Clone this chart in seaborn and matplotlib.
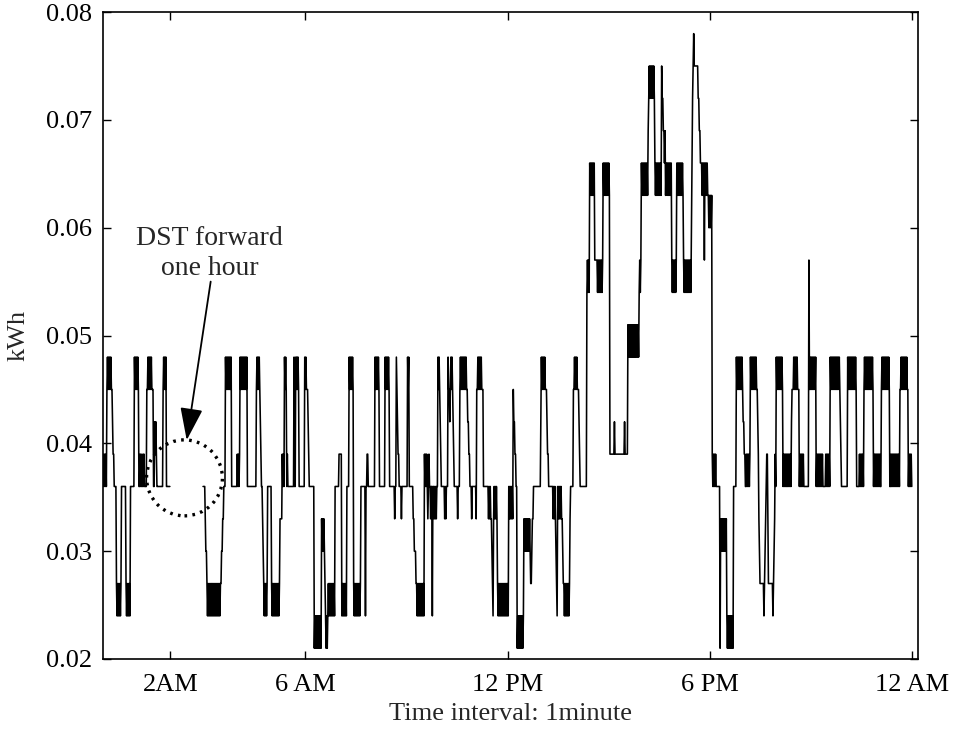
import numpy as np
import pandas as pd
import matplotlib
matplotlib.use("Agg")
import matplotlib.pyplot as plt
from matplotlib.patches import Ellipse
import seaborn as sns

# ---------------- data ----------------
# one character per minute; each code is a metered level (kWh), '-' = no data (DST gap)
level_codes = "0123456789abcdefghij"
level_values = [0.021, 0.024, 0.027, 0.030, 0.033, 0.036, 0.039, 0.042, 0.045, 0.048,
                0.051, 0.054, 0.057, 0.060, 0.063, 0.066, 0.069, 0.072, 0.075, 0.078]
# "c*n" = level c held for n minutes, other tokens are literal minute-by-minute codes
night = (
    "5656565 898989898 87665 5*3 212121212 5*8 21212121 5*7 98989898 "
    "55656556565555 889898989888 5576765 5*10 898989 5*7 -*58 "
    "5*4 4332 1212121212 1212121212 1212 23344555"
)
morning = (
    "98989898989 5*10 65656 9898989898989 5*16 898989 8765 5432 121212 5*7 "
    "212121212121212 4*4 65659898565 5*10 9559898985 5*9 989888 765 5*8 "
    "0101010101010 434343 210101 212121212121 5*6 566666 121212121 5*4 "
    "98989898 2121212121212 5*7 515 56655 5*10 98989898 5*10 98989898 5*9 4 "
    "55987665555455 5*7 59895 5*4 554433322 1212121212121 6565654565 545 515 "
    "545454 5598987655 5555454 5*3 98878989 876555 5554555 898989898989 "
    "887766555 455555554 889898989888 5*8 545454 43214 5454542 "
    "1212121212121212121 54545454 8776655 010101010101 4343434343432 234455 5*11"
)
afternoon = (
    "7989898988 876655 5*5 545454 321 54545454 4322 1212121212 455555 "
    "889898988 876555 5*9 bcbcb fefefefef c*4 cbcbcbcbcbc fefefefefefe "
    "6*8 7 6*17 7 6*5 a9a9a9a9a9a9a9a9a9a9 bcbc fefefefefefe gh ihihihihih "
    "fefefefefefe ihhggfgef fefefefef cbcbcbcbc fefefefefefe cbcbcbcbcbcbcb "
    "dfh ij i*7 hhggff fefefcfefefe ededede 65656565 5*6"
)
evening = (
    "043434343434 101010101010 5*5 98989898989 877665 56565656 989898989898 "
    "876432 22222212 3456642 222222212 3465 989898989898 565656565656565 78 "
    "889898989888 56565656555555555 c 898989898989 56565656565655555 65656565 "
    "98989898989898989 8765 5*10 9898989898989898 5*5 65656565 "
    "89898989898989898 56565656565655 898989898989898 556565656565656565 "
    "889898989898988 5656565"
)

tick_minutes = [120, 360, 720, 1080, 1440]
tick_labels = ["2AM", "6 AM", "12 PM", "6 PM", "12 AM"]
y_ticks = [0.02, 0.03, 0.04, 0.05, 0.06, 0.07, 0.08]


def decode(text):
    out = []
    for tok in text.split():
        if "*" in tok:
            c, n = tok.split("*")
            out.extend([c] * int(n))
        else:
            out.extend(list(tok))
    return out


lookup = dict(zip(level_codes, level_values))
codes = decode(night) + decode(morning) + decode(afternoon) + decode(evening)
kwh = np.array([lookup.get(c, np.nan) for c in codes], dtype=float)
minute = np.arange(len(kwh))
segment = np.cumsum(np.isnan(kwh))
df = pd.DataFrame({"minute": minute, "kwh": kwh, "segment": segment}).dropna()

# ---------------- figure ----------------
sns.set_style("ticks")
plt.rcParams["font.family"] = ["Liberation Serif", "DejaVu Serif"]
FS = 19

fig = plt.figure(figsize=(9.58, 7.31), dpi=100)
ax = fig.add_axes([0.1075, 0.0985, 0.8507, 0.885])

sns.lineplot(data=df, x="minute", y="kwh", units="segment", estimator=None,
             color="black", linewidth=1.15, ax=ax, legend=False)

ax.set_xlim(0, 1450)
ax.set_ylim(0.02, 0.08)
ax.set_xticks(tick_minutes)
ax.set_xticklabels(tick_labels)
ax.set_yticks(y_ticks)
ax.set_yticklabels([f"{v:.2f}" for v in y_ticks])
ax.tick_params(direction="in", top=True, right=True, length=6, width=1,
               labelsize=FS, colors="black")
ax.tick_params(axis="y", pad=8)
ax.tick_params(axis="x", pad=11)
for sp in ax.spines.values():
    sp.set_visible(True)
    sp.set_linewidth(1.2)
    sp.set_color("black")

ax.set_xlabel("Time interval: 1minute", fontsize=FS, labelpad=5)
ax.set_ylabel("kWh", fontsize=FS, labelpad=12)

# annotation: DST gap
ax.text(190, 0.0576, "DST forward\none hour", ha="center", va="center",
        fontsize=FS + 1, linespacing=1.25)
ax.annotate("", xy=(149, 0.0403), xytext=(191.6, 0.0550),
            arrowprops=dict(arrowstyle="-|>,head_length=1.0,head_width=0.35",
                            color="black", lw=1.3, shrinkA=0, shrinkB=0,
                            mutation_scale=20))
ax.add_patch(Ellipse((145, 0.0368), width=135, height=0.00705, fill=False,
                     edgecolor="black", linewidth=2.4, linestyle=(0, (0.8, 1.6))))

fig.savefig("out.png", dpi=100, facecolor="white")
